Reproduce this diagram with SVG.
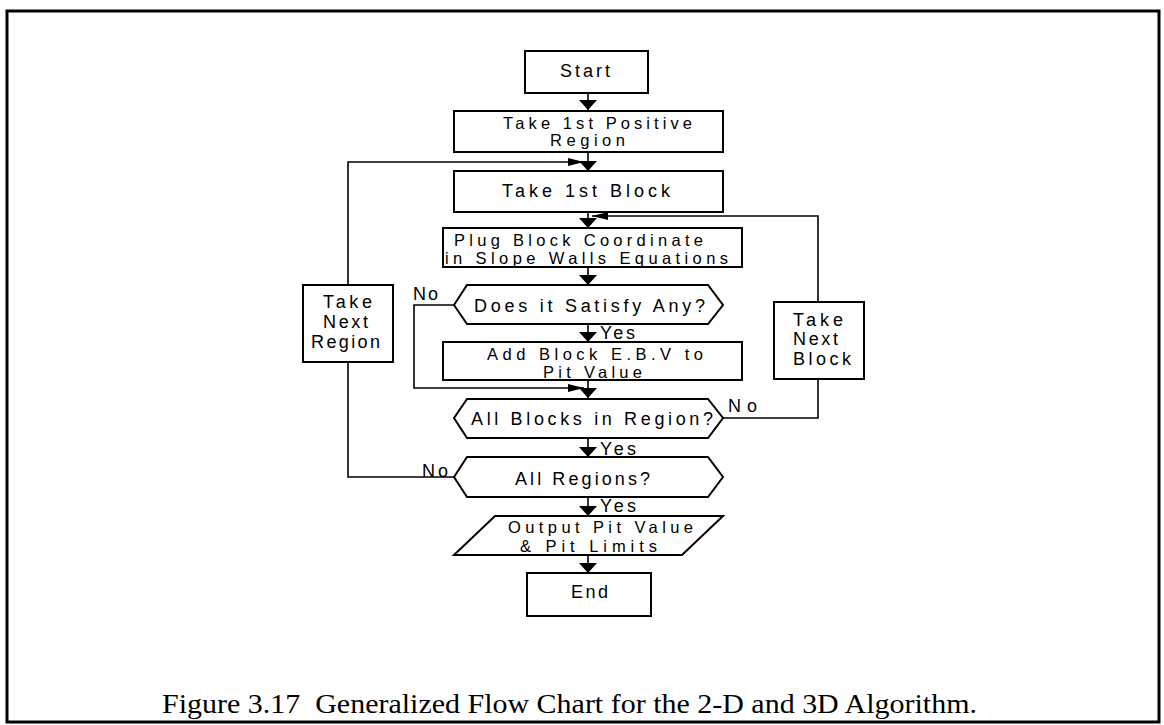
<svg xmlns="http://www.w3.org/2000/svg" width="1164" height="725" viewBox="0 0 1164 725">
  <style>
    .box { fill: #fff; stroke: #000; stroke-width: 2; }
    .wire { fill: none; stroke: #000; stroke-width: 1.6; }
    .lbl { font-family: "Liberation Sans", Arial, sans-serif; font-size: 18px; fill: #000; }
    .tight { font-size: 16.5px; }
    .cap { font-family: "Liberation Serif", "Times New Roman", serif; font-size: 28px; fill: #000; }
  </style>
  <defs>
    <marker id="ah" viewBox="0 0 10 18" refX="10" refY="9" markerWidth="10" markerHeight="18" markerUnits="userSpaceOnUse" orient="auto">
      <path d="M0,0 L10,9 L0,18 Z" fill="#000"/>
    </marker>
    <marker id="ahs" viewBox="0 0 16 8" refX="16" refY="4" markerWidth="16" markerHeight="8" markerUnits="userSpaceOnUse" orient="auto">
      <path d="M0,0 L16,4 L0,8 Z" fill="#000"/>
    </marker>
  </defs>

  <rect width="1164" height="725" fill="#fff"/>
  <!-- page frame -->
  <rect x="7" y="11" width="1152" height="711" fill="none" stroke="#000" stroke-width="3"/>

  <!-- connectors -->
  <g id="connectors">
    <path class="wire" d="M588,93 V110" marker-end="url(#ah)"/>
    <path class="wire" d="M588,152 V171" marker-end="url(#ah)"/>
    <path class="wire" d="M348,285 V162 H584" marker-end="url(#ahs)"/>
    <path class="wire" d="M454,477 H348 V362"/>
    <path class="wire" d="M588,212 V228" marker-end="url(#ah)"/>
    <path class="wire" d="M723,418 H818 V379"/>
    <path class="wire" d="M818,302 V216 H592" marker-end="url(#ahs)"/>
    <path class="wire" d="M588,267 V285" marker-end="url(#ah)"/>
    <path class="wire" d="M588,324 V342" marker-end="url(#ah)"/>
    <path class="wire" d="M454,305 H414 V388 H584" marker-end="url(#ahs)"/>
    <path class="wire" d="M588,380 V398" marker-end="url(#ah)"/>
    <path class="wire" d="M588,438 V457" marker-end="url(#ah)"/>
    <path class="wire" d="M588,497 V516" marker-end="url(#ah)"/>
    <path class="wire" d="M588,555 V573" marker-end="url(#ah)"/>
  </g>

  <!-- branch labels -->
  <g id="branch-labels">
    <text class="lbl" x="413" y="300" textLength="25" lengthAdjust="spacing">No</text>
    <text class="lbl" x="600" y="339" textLength="35" lengthAdjust="spacing">Yes</text>
    <text class="lbl" x="728" y="412" textLength="29" lengthAdjust="spacing">No</text>
    <text class="lbl" x="600" y="455" textLength="36" lengthAdjust="spacing">Yes</text>
    <text class="lbl" x="422" y="477" textLength="26" lengthAdjust="spacing">No</text>
    <text class="lbl" x="600" y="512" textLength="36" lengthAdjust="spacing">Yes</text>
  </g>

  <g id="start">
    <rect class="box" x="525" y="51" width="123" height="42"/>
    <text class="lbl" x="560" y="77" textLength="50" lengthAdjust="spacing">Start</text>
  </g>

  <g id="take-first-region">
    <rect class="box" x="454" y="111" width="269" height="41"/>
    <text class="lbl tight" x="503" y="129" textLength="189" lengthAdjust="spacing">Take 1st Positive</text>
    <text class="lbl tight" x="550" y="146" textLength="75" lengthAdjust="spacing">Region</text>
  </g>

  <g id="take-first-block">
    <rect class="box" x="454" y="171" width="269" height="41"/>
    <text class="lbl" x="502" y="197" textLength="168" lengthAdjust="spacing">Take 1st Block</text>
  </g>

  <g id="plug-coordinate">
    <rect class="box" x="443" y="228" width="299" height="39"/>
    <text class="lbl tight" x="454" y="246" textLength="249" lengthAdjust="spacing">Plug Block Coordinate</text>
    <text class="lbl tight" x="445" y="264" textLength="283" lengthAdjust="spacing">in Slope Walls Equations</text>
  </g>

  <g id="satisfy-any">
    <polygon class="box" points="454,305 467,285 708,285 723,305 708,324 467,324"/>
    <text class="lbl" x="474" y="312" textLength="231" lengthAdjust="spacing">Does it Satisfy Any?</text>
  </g>

  <g id="add-ebv">
    <rect class="box" x="443" y="342" width="299" height="38"/>
    <text class="lbl tight" x="487" y="360" textLength="216" lengthAdjust="spacing">Add Block E.B.V to</text>
    <text class="lbl tight" x="543" y="378" textLength="99" lengthAdjust="spacing">Pit Value</text>
  </g>

  <g id="all-blocks">
    <polygon class="box" points="454,418 467,399 708,399 723,418 708,438 467,438"/>
    <text class="lbl" x="471" y="425" textLength="242" lengthAdjust="spacing">All Blocks in Region?</text>
  </g>

  <g id="all-regions">
    <polygon class="box" points="454,477 467,457 708,457 723,477 708,497 467,497"/>
    <text class="lbl" x="515" y="485" textLength="135" lengthAdjust="spacing">All Regions?</text>
  </g>

  <g id="output">
    <polygon class="box" points="495,516 723,516 682,555 454,555"/>
    <text class="lbl tight" x="508" y="533" textLength="185" lengthAdjust="spacing">Output Pit Value</text>
    <text class="lbl tight" x="520" y="552" textLength="137" lengthAdjust="spacing">&amp; Pit Limits</text>
  </g>

  <g id="end">
    <rect class="box" x="527" y="573" width="124" height="43"/>
    <text class="lbl" x="571" y="598" textLength="37" lengthAdjust="spacing">End</text>
  </g>

  <g id="take-next-region">
    <rect class="box" x="303" y="285" width="90" height="77"/>
    <text class="lbl" x="323" y="308" textLength="49" lengthAdjust="spacing">Take</text>
    <text class="lbl" x="323" y="328" textLength="45" lengthAdjust="spacing">Next</text>
    <text class="lbl" x="311" y="348" textLength="69" lengthAdjust="spacing">Region</text>
  </g>

  <g id="take-next-block">
    <rect class="box" x="774" y="302" width="90" height="77"/>
    <text class="lbl" x="793" y="326" textLength="50" lengthAdjust="spacing">Take</text>
    <text class="lbl" x="793" y="345" textLength="45" lengthAdjust="spacing">Next</text>
    <text class="lbl" x="793" y="365" textLength="58" lengthAdjust="spacing">Block</text>
  </g>

  <text class="cap" x="162" y="713" textLength="815" lengthAdjust="spacingAndGlyphs" xml:space="preserve">Figure 3.17  Generalized Flow Chart for the 2-D and 3D Algorithm.</text>
</svg>
